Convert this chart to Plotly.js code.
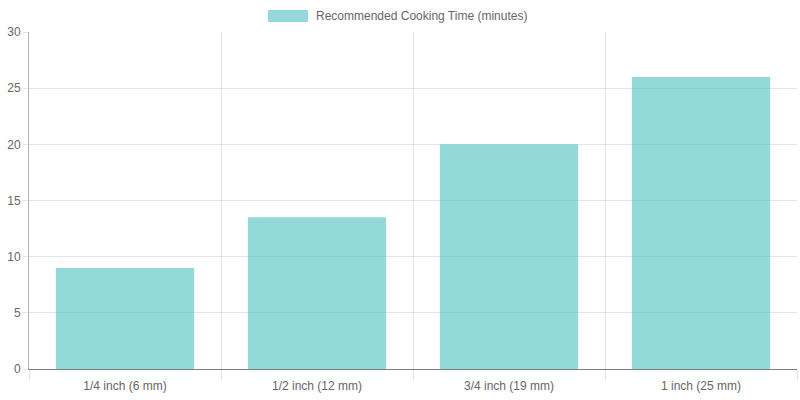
<!DOCTYPE html>
<html>
<head>
<meta charset="utf-8">
<script src="https://cdn.plot.ly/plotly-3.0.1.min.js"></script>
<style>
html, body { margin: 0; padding: 0; background: #fff; }
#chart { width: 800px; height: 400px; }
</style>
</head>
<body>
<div id="chart"></div>
<script>
var categories = ["1/4 inch (6 mm)", "1/2 inch (12 mm)", "3/4 inch (19 mm)", "1 inch (25 mm)"];
var cookingTime = [9, 13.5, 20, 26];
var seriesName = "Recommended Cooking Time (minutes)";

var fill = "rgba(75,192,192,0.6)";
var grid = "rgba(0,0,0,0.1)";

var data = [{
    type: "bar",
    x: categories,
    y: cookingTime,
    name: seriesName,
    marker: {color: fill, line: {width: 0}},
    hoverinfo: "x+y"
}];

var layout = {
    width: 800, height: 400,
    margin: {l: 29, r: 3, t: 32, b: 31},
    paper_bgcolor: "#fff", plot_bgcolor: "#fff",
    font: {family: "Liberation Sans, Arial, sans-serif", size: 12, color: "#666"},
    showlegend: false,
    bargap: 0.28,
    xaxis: {
        type: "category",
        tickson: "boundaries",
        ticks: "outside", ticklen: 10, tickcolor: grid,
        ticklabelstandoff: 6,
        showgrid: true, gridcolor: grid,
        showline: true, linecolor: "rgba(0,0,0,0.3)",
        tickfont: {size: 12, color: "#666"},
        fixedrange: true
    },
    yaxis: {
        range: [0, 30], dtick: 5,
        ticks: "outside", ticklen: 5, tickcolor: grid,
        showgrid: true, gridcolor: grid,
        zeroline: true, zerolinecolor: "rgba(0,0,0,0.3)",
        showline: true, linecolor: "rgba(0,0,0,0.3)",
        tickfont: {size: 12, color: "#666"},
        fixedrange: true
    },
    shapes: [{
        type: "rect", xref: "paper", yref: "paper",
        x0: (268 - 29) / 768, x1: (308 - 29) / 768,
        y0: (369 - 22) / 337, y1: (369 - 10) / 337,
        fillcolor: fill, line: {width: 0}
    }],
    annotations: [{
        xref: "paper", yref: "paper",
        x: (314 - 29) / 768, y: (369 - 16) / 337,
        xanchor: "left", yanchor: "middle",
        text: seriesName, showarrow: false,
        font: {size: 12, color: "#666"}
    }]
};

Plotly.newPlot("chart", data, layout, {displayModeBar: false, staticPlot: true});
</script>
</body>
</html>
